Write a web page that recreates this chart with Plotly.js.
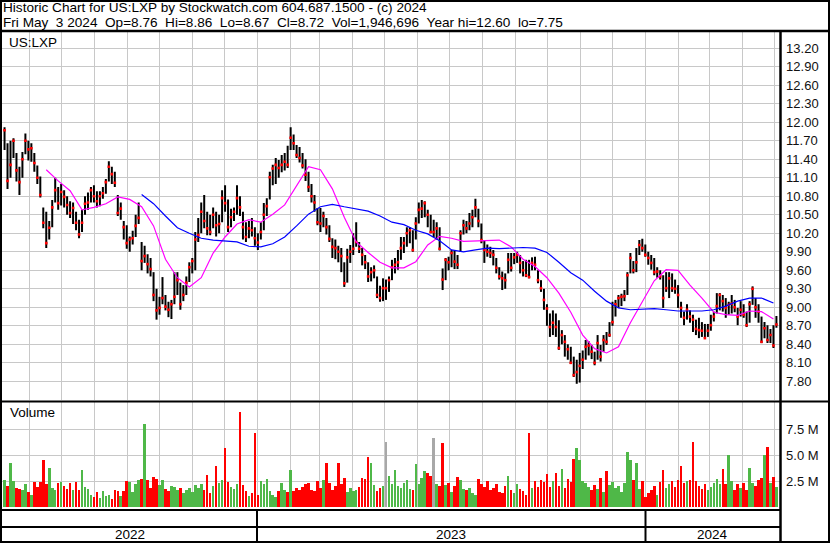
<!DOCTYPE html>
<html><head><meta charset="utf-8">
<script src="https://cdn.plot.ly/plotly-3.0.1.min.js"></script>
<style>html,body{margin:0;padding:0;background:#fff;}#chart{width:830px;height:543px;}</style>
</head><body><div id="chart"></div>
<script>
// ---- data (each bar = a 2-session sample, last bar = 2024-05-03) ----
const lastDate = '2024-05-03';
const barStepDays = 2.8;

const highs = [
11.92,11.66,11.70,11.74,11.50,11.28,11.52,11.82,11.70,11.66,
11.50,11.30,11.12,10.62,10.55,10.40,10.74,11.10,10.95,11.00,
10.90,10.80,10.72,10.70,10.55,10.42,10.58,10.80,10.86,10.95,
10.98,10.88,10.88,10.95,11.08,11.37,11.28,11.20,10.82,10.70,
10.40,10.33,10.15,10.24,10.50,10.70,10.06,10.00,9.86,9.80,
9.57,9.30,9.17,9.49,9.20,9.09,9.12,9.57,9.57,9.40,
9.36,9.50,9.73,9.80,10.22,10.45,10.70,10.82,10.55,10.50,
10.62,10.55,10.50,10.90,10.98,10.75,10.60,10.62,10.98,10.80,
10.55,10.38,10.40,10.45,10.30,10.20,10.38,10.69,10.77,11.20,
11.31,11.42,11.39,11.47,11.50,11.62,11.92,11.80,11.63,11.60,
11.50,11.40,11.20,11.00,10.82,10.61,10.61,10.55,10.45,10.33,
10.12,10.10,10.00,9.96,9.73,9.95,10.01,10.20,10.38,10.06,
9.96,9.85,9.73,9.65,9.68,9.50,9.35,9.47,9.45,9.50,
9.77,9.80,9.93,10.14,10.14,10.30,10.30,10.25,10.46,10.70,
10.74,10.72,10.58,10.50,10.42,10.38,10.30,9.63,9.80,9.82,
9.93,9.92,9.85,10.25,10.42,10.40,10.53,10.58,10.76,10.60,
10.36,10.09,10.02,9.98,9.93,9.80,9.65,9.58,9.55,9.88,
9.88,9.88,9.90,9.85,9.75,9.77,9.77,9.81,9.82,9.60,
9.44,9.30,9.05,8.90,8.95,8.90,8.79,8.63,8.55,8.40,
8.36,8.20,8.15,8.26,8.30,8.47,8.45,8.39,8.28,8.55,
8.39,8.55,8.60,8.76,9.09,9.12,9.20,9.22,9.28,9.57,
9.88,9.75,9.96,10.09,10.11,10.02,9.90,9.85,9.80,9.65,
9.60,9.52,9.57,9.57,9.55,9.45,9.36,9.09,8.93,9.05,
8.95,8.88,8.80,8.83,8.76,8.73,8.73,8.88,8.93,9.23,
9.23,9.20,9.15,9.09,9.20,9.12,8.99,9.10,9.05,8.93,
9.10,9.34,9.15,9.05,8.85,8.76,8.71,8.65,8.71,8.86];

const lows = [
11.55,10.92,11.10,11.42,11.04,10.82,11.10,11.48,11.38,11.36,
11.20,11.00,10.78,10.28,9.96,10.10,10.30,10.70,10.58,10.65,
10.62,10.50,10.45,10.35,10.25,10.12,10.22,10.50,10.58,10.70,
10.70,10.62,10.64,10.76,10.84,11.04,11.00,10.95,10.48,10.42,
10.10,9.95,9.90,10.02,10.14,10.35,9.60,9.72,9.55,9.50,
9.10,8.80,8.88,9.05,8.95,8.84,8.81,9.05,9.20,8.96,
9.10,9.20,9.41,9.55,9.60,10.06,10.20,10.28,10.17,10.17,
10.28,10.15,10.20,10.38,10.55,10.22,10.30,10.40,10.50,10.48,
10.10,10.06,10.12,10.15,10.00,9.93,10.10,10.25,10.48,10.75,
10.98,11.00,11.10,11.19,11.22,11.26,11.55,11.55,11.42,11.35,
11.25,11.05,10.87,10.70,10.55,10.33,10.22,10.30,10.18,10.06,
9.80,9.78,9.73,9.57,9.33,9.40,9.72,9.85,9.98,9.88,
9.68,9.62,9.41,9.42,9.47,9.15,9.09,9.10,9.12,9.25,
9.44,9.55,9.61,9.77,9.88,9.98,10.04,9.90,10.10,10.36,
10.45,10.46,10.30,10.20,10.14,10.10,9.92,9.28,9.44,9.60,
9.65,9.62,9.62,9.90,10.18,10.20,10.25,10.30,10.46,10.30,
10.04,9.72,9.82,9.80,9.68,9.55,9.45,9.28,9.30,9.55,
9.58,9.70,9.72,9.55,9.50,9.49,9.47,9.60,9.60,9.39,
9.25,8.96,8.70,8.52,8.55,8.52,8.31,8.40,8.20,8.15,
8.08,7.87,7.76,7.78,8.00,8.15,8.22,8.16,8.06,8.15,
8.12,8.28,8.39,8.52,8.70,8.85,8.99,9.02,9.10,9.20,
9.55,9.55,9.57,9.85,9.90,9.82,9.69,9.61,9.52,9.48,
9.45,8.99,9.25,9.15,9.25,9.22,8.99,8.83,8.71,8.80,
8.75,8.60,8.55,8.50,8.52,8.50,8.52,8.62,8.77,8.90,
8.95,8.93,8.83,8.88,8.90,8.92,8.71,8.85,8.83,8.68,
8.75,9.04,8.83,8.75,8.42,8.50,8.42,8.42,8.34,8.67];

const closes = [
11.87,11.05,11.31,11.70,11.22,11.03,11.40,11.70,11.56,11.58,
11.34,11.10,10.82,10.37,10.04,10.29,10.62,10.90,10.69,10.87,
10.79,10.66,10.53,10.61,10.37,10.18,10.37,10.68,10.70,10.90,
10.80,10.72,10.80,10.85,11.03,11.28,11.16,11.02,10.53,10.60,
10.30,10.04,10.10,10.12,10.32,10.45,9.75,9.83,9.70,9.62,
9.20,8.95,8.99,9.15,9.01,8.96,9.05,9.17,9.44,9.05,
9.20,9.40,9.65,9.75,10.10,10.17,10.55,10.40,10.28,10.22,
10.50,10.33,10.35,10.77,10.69,10.30,10.46,10.55,10.77,10.62,
10.30,10.14,10.28,10.25,10.12,10.05,10.22,10.50,10.64,11.11,
11.25,11.31,11.26,11.31,11.36,11.31,11.75,11.66,11.47,11.42,
11.30,11.15,10.95,10.80,10.70,10.38,10.36,10.48,10.30,10.11,
9.98,9.96,9.90,9.83,9.39,9.81,9.90,9.95,10.06,9.95,
9.85,9.73,9.50,9.57,9.60,9.20,9.15,9.31,9.31,9.44,
9.65,9.69,9.73,9.96,10.04,10.20,10.25,9.93,10.36,10.58,
10.60,10.69,10.50,10.22,10.22,10.28,9.95,9.45,9.77,9.73,
9.88,9.74,9.69,10.20,10.33,10.28,10.36,10.46,10.62,10.40,
10.09,9.93,9.90,9.88,9.85,9.64,9.50,9.47,9.44,9.77,
9.64,9.81,9.85,9.72,9.60,9.52,9.49,9.72,9.69,9.44,
9.31,9.12,8.98,8.68,8.75,8.68,8.34,8.55,8.44,8.32,
8.10,7.90,7.95,8.05,8.15,8.36,8.38,8.28,8.10,8.42,
8.20,8.47,8.44,8.55,8.76,9.05,9.15,9.17,9.18,9.52,
9.80,9.60,9.73,10.01,9.96,9.85,9.80,9.72,9.57,9.58,
9.50,9.15,9.31,9.47,9.31,9.30,9.20,8.99,8.83,8.96,
8.85,8.80,8.65,8.63,8.62,8.50,8.62,8.71,8.85,9.02,
9.20,9.10,8.99,9.04,9.06,9.00,8.85,8.96,8.88,8.71,
9.05,9.30,9.00,8.93,8.44,8.66,8.47,8.55,8.38,8.72];

// volume in millions of shares
const volumesM = [
2.6,2.0,4.2,2.5,1.8,1.7,1.6,2.2,1.4,1.2,
2.4,1.9,2.4,4.5,2.2,3.8,1.8,1.6,2.3,2.4,
2.0,1.7,2.3,1.6,2.4,1.6,3.6,1.9,1.7,1.2,
1.0,1.4,0.9,1.5,1.1,1.2,0.8,1.6,1.5,1.1,
1.5,2.5,2.4,1.4,2.2,2.6,2.7,8.0,2.6,1.8,
2.9,2.7,2.1,2.6,1.7,1.5,2.0,1.9,1.6,1.8,
1.3,1.6,1.8,1.4,2.1,1.8,2.2,1.6,3.1,1.3,
2.0,3.9,2.3,2.6,5.7,2.4,1.9,1.7,2.2,9.1,
2.1,1.5,1.1,1.3,7.1,1.2,2.5,2.2,2.7,1.5,
1.2,1.0,1.5,2.3,1.6,1.4,3.6,1.5,1.8,1.6,
1.9,2.2,2.3,1.6,1.5,2.5,1.8,2.6,4.2,2.3,
1.6,2.0,4.2,2.2,2.8,1.4,1.8,1.5,1.6,1.9,
2.8,2.7,4.8,4.2,2.1,1.5,1.8,2.0,6.3,3.0,
2.2,3.6,2.0,1.8,2.3,2.6,1.7,1.6,4.1,2.2,
2.8,3.5,3.3,3.0,6.6,2.2,2.0,6.2,2.1,2.3,
1.4,2.0,2.9,2.6,1.7,1.6,1.8,1.3,1.2,2.7,
2.2,1.9,2.5,1.6,1.8,2.2,1.4,1.3,2.0,3.0,
1.6,1.3,2.2,1.7,1.5,1.2,7.1,1.8,2.5,1.9,
2.6,2.4,3.2,1.9,2.5,3.3,2.0,3.7,1.8,2.7,
2.4,4.6,5.7,4.5,2.5,2.3,1.9,1.6,2.1,1.7,
2.8,1.4,3.5,2.1,2.4,1.8,2.0,1.4,2.3,5.3,
4.5,2.6,4.2,1.7,2.5,1.0,1.3,1.6,2.0,1.2,
2.4,3.6,1.8,2.2,2.5,1.9,2.6,3.9,2.3,2.5,
2.6,6.3,2.5,2.0,1.7,2.2,1.6,1.9,2.3,2.7,
2.2,3.7,2.2,5.0,2.5,1.6,2.2,1.8,2.3,1.6,
3.8,2.3,2.0,2.6,2.8,5.0,5.8,2.3,2.9,1.95];

const maStep = 4;
const maFastStart = 14;
const maFast = [
11.23,11.05,10.89,10.58,10.62,10.68,10.79,10.75,10.63,10.32,
9.78,9.48,9.33,9.48,9.88,10.14,10.35,10.42,10.38,10.51,
10.66,10.98,11.28,11.23,10.92,10.46,10.06,9.89,9.73,9.64,
9.64,9.74,10.01,10.15,10.12,10.07,10.08,10.08,10.09,9.98,
9.78,9.66,9.48,9.23,8.92,8.55,8.33,8.26,8.36,8.75,
9.09,9.43,9.61,9.60,9.36,9.15,8.92,8.88,8.87,8.94,
8.93,8.81];
const maSlowStart = 46;
const maSlow = [
10.83,10.68,10.48,10.29,10.20,10.12,10.09,10.08,10.06,9.99,
9.98,10.03,10.14,10.32,10.51,10.63,10.67,10.63,10.59,10.56,
10.48,10.38,10.34,10.25,10.19,10.08,9.93,9.90,9.93,9.96,
9.95,9.96,9.97,9.96,9.89,9.73,9.56,9.44,9.26,9.10,
8.99,8.96,8.97,8.98,8.96,8.94,8.94,8.94,8.96,9.02,
9.10,9.15,9.15,9.07];

const priceTicks = [7.80,8.10,8.40,8.70,9.00,9.30,9.60,9.90,10.20,10.50,10.80,11.10,11.40,11.70,12.00,12.30,12.60,12.90,13.20];
const volTicks = [2.5,5.0,7.5];
const volTickText = ['2.5 M','5.0 M','7.5 M'];
const years = [2022,2023,2024];

const headerLine1 = 'Historic Chart for US:LXP by Stockwatch.com 604.687.1500 - (c) 2024';
const headerLine2 = 'Fri May\u00a0\u00a03 2024\u00a0\u00a0Op=8.76\u00a0\u00a0Hi=8.86\u00a0\u00a0Lo=8.67\u00a0\u00a0Cl=8.72\u00a0\u00a0Vol=1,946,696\u00a0\u00a0Year hi=12.60\u00a0\u00a0lo=7.75';
const symbol = 'US:LXP';

// ---- build ----
const DAY = 86400000;
const N = closes.length;
const endMs = Date.parse(lastDate + 'T00:00:00Z');
const fmt = ms => new Date(ms).toISOString().slice(0,19).replace('T',' ');
const dates = closes.map((c,i) => fmt(endMs - (N-1-i)*barStepDays*DAY));

const hlX = [], hlY = [];
for (let i=0;i<N;i++){ hlX.push(dates[i],dates[i],null); hlY.push(lows[i],highs[i],null); }

const GREEN='#4fb848', RED='#ff0000', GRAY='#a8a8a8';
const volColors = closes.map((c,i)=> i===0 ? GREEN : (c>closes[i-1]?GREEN:(c<closes[i-1]?RED:GRAY)));

const fastX = maFast.map((v,k)=>dates[maFastStart+k*maStep]);
const slowX = maSlow.map((v,k)=>dates[maSlowStart+k*maStep]);

const W=830, H=543;
const px = x => x/W, py = y => 1 - y/H;
const FONT = 'Liberation Sans, Arial, Helvetica, sans-serif';

const traces = [
 {type:'bar', x:dates, y:volumesM, yaxis:'y2', width:2.4*DAY,
  marker:{color:volColors, line:{width:0}}, hoverinfo:'skip'},
 {type:'scatter', mode:'lines', x:hlX, y:hlY, connectgaps:false,
  line:{color:'#000', width:2}, hoverinfo:'skip'},
 {type:'scatter', mode:'markers', x:dates, y:closes,
  marker:{symbol:'square', size:2.6, color:'#ff0000', line:{width:0}}, hoverinfo:'skip'},
 {type:'scatter', mode:'lines', x:fastX, y:maFast, line:{color:'#ff00ff', width:1.2}, hoverinfo:'skip'},
 {type:'scatter', mode:'lines', x:slowX, y:maSlow, line:{color:'#0000ff', width:1.2}, hoverinfo:'skip'}
];

const xr0 = '2022-05-06 10:00', xr1 = '2024-05-05 21:30';
const yearMid = y => {
  const a = Math.max(Date.parse(y+'-01-01T00:00:00Z'), Date.parse(xr0.replace(' ','T')+':00Z'));
  const b = Math.min(Date.parse((y+1)+'-01-01T00:00:00Z'), Date.parse(xr1.replace(' ','T')+':00Z'));
  return fmt((a+b)/2);
};

const HF = 13.6;
const annotations = [
 {xref:'paper', yref:'paper', x:px(2), y:py(7.6), xanchor:'left', yanchor:'middle', borderpad:0, text:headerLine1, showarrow:false, font:{size:HF, family:FONT, color:'#000'}},
 {xref:'paper', yref:'paper', x:px(2), y:py(22.4), xanchor:'left', yanchor:'middle', borderpad:0, text:headerLine2, showarrow:false, font:{size:HF, family:FONT, color:'#000'}},
 {xref:'paper', yref:'paper', x:px(7), y:py(42), xanchor:'left', yanchor:'middle', text:symbol, showarrow:false, font:{size:13.5, family:FONT, color:'#000'}},
 {xref:'paper', yref:'paper', x:px(8), y:py(413), xanchor:'left', yanchor:'middle', text:'Volume', showarrow:false, font:{size:13.5, family:FONT, color:'#000'}}
].concat(years.map(y=>({xref:'x', yref:'paper', x:yearMid(y), y:py(534.5), xanchor:'center', yanchor:'middle', text:String(y), showarrow:false, font:{size:13.5, family:FONT, color:'#000'}})));

const L = (x0,y0,x1,y1,w)=>({type:'line', xref:'paper', yref:'paper', x0:px(x0), y0:py(y0), x1:px(x1), y1:py(y1), line:{color:'#000', width:w}});
const shapes = [
 {type:'rect', xref:'paper', yref:'paper', x0:px(1), y0:py(1), x1:px(829), y1:py(542), line:{color:'#000', width:2}},
 L(0,31,830,31,2.5),
 L(0,401.5,830,401.5,2),
 L(780.5,31,780.5,543,2.5),
 L(0,510,781,510,2),
 L(0,527,781,527,2)
].concat(years.slice(1).map(y=>({type:'line', xref:'x', yref:'paper', x0:y+'-01-01', x1:y+'-01-01', y0:py(510), y1:py(542), line:{color:'#000', width:2}})));

const layout = {
 width:W, height:H, margin:{l:0,r:0,t:0,b:0}, paper_bgcolor:'#fff', plot_bgcolor:'#fff',
 showlegend:false, font:{family:FONT, size:13, color:'#000'},
 xaxis:{type:'date', domain:[px(2), px(779.5)], range:[xr0, xr1], tick0:'2022-06-01', dtick:'M1',
   showgrid:true, gridcolor:'#c8c8c8', gridwidth:1, showticklabels:false, ticks:'', zeroline:false, showline:false, fixedrange:true},
 yaxis:{domain:[py(400), py(32)], range:[7.497, 13.464], side:'right', tickmode:'array', tickvals:priceTicks,
   ticktext:priceTicks.map(v=>v.toFixed(2)), showgrid:true, gridcolor:'#c8c8c8', gridwidth:1,
   ticks:'outside', ticklen:3, tickcolor:'rgba(0,0,0,0)', zeroline:false, showline:false,
   tickfont:{size:13, family:FONT, color:'#111'}, fixedrange:true},
 yaxis2:{domain:[py(507), py(402)], range:[0, 10.1], side:'right', anchor:'x', tickmode:'array', tickvals:volTicks,
   ticktext:volTickText, showgrid:true, gridcolor:'#c8c8c8', gridwidth:1,
   ticks:'outside', ticklen:3, tickcolor:'rgba(0,0,0,0)', zeroline:false, showline:false,
   tickfont:{size:13, family:FONT, color:'#111'}, fixedrange:true},
 annotations:annotations, shapes:shapes, bargap:0
};

Plotly.newPlot('chart', traces, layout, {staticPlot:true, displayModeBar:false});
</script>
</body></html>
